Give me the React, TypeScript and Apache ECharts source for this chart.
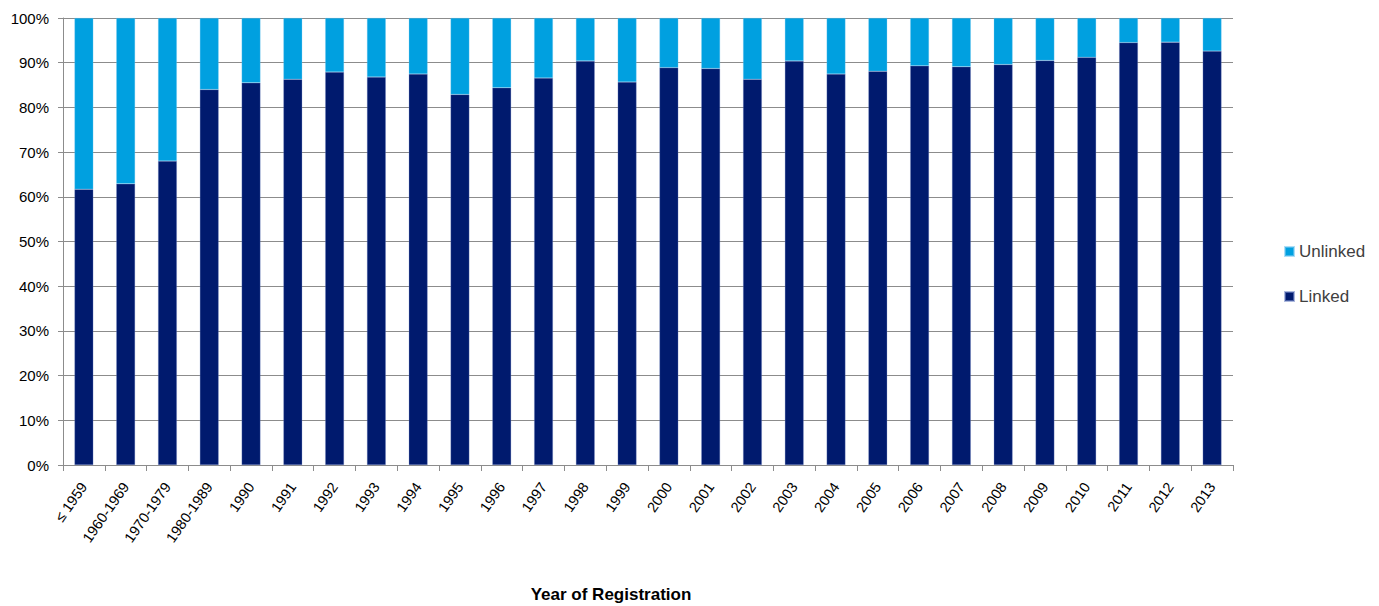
import React, { useEffect, useRef } from "react";
import * as echarts from "echarts";

const categories = [
  "≤ 1959", "1960-1969", "1970-1979", "1980-1989", "1990", "1991", "1992", "1993", "1994",
  "1995", "1996", "1997", "1998", "1999", "2000", "2001", "2002", "2003", "2004", "2005",
  "2006", "2007", "2008", "2009", "2010", "2011", "2012", "2013",
];

const linked = [
  61.7, 62.9, 68.0, 84.0, 85.5, 86.3, 87.9, 86.8, 87.5, 82.9, 84.4, 86.6, 90.4, 85.7,
  88.9, 88.7, 86.3, 90.4, 87.5, 88.1, 89.3, 89.1, 89.6, 90.5, 91.2, 94.5, 94.6, 92.6,
];

const unlinked = [
  38.3, 37.1, 32.0, 16.0, 14.5, 13.7, 12.1, 13.2, 12.5, 17.1, 15.6, 13.4, 9.6, 14.3,
  11.1, 11.3, 13.7, 9.6, 12.5, 11.9, 10.7, 10.9, 10.4, 9.5, 8.8, 5.5, 5.4, 7.4,
];

const yTicks = [0, 10, 20, 30, 40, 50, 60, 70, 80, 90, 100];

const FONT = "'Liberation Sans', Arial, sans-serif";

export default function App() {
  const ref = useRef<HTMLDivElement>(null);
  useEffect(() => {
    if (!ref.current) return;
    const chart = echarts.init(ref.current, undefined, { renderer: "svg" });
    chart.setOption({
      animation: false,
      backgroundColor: "#ffffff",
      textStyle: { fontFamily: FONT },
      grid: { left: 63, top: 18, right: 146, bottom: 141, containLabel: false },
      legend: {
        orient: "vertical",
        left: 1279,
        top: 238,
        itemGap: 28,
        itemWidth: 9,
        itemHeight: 9,
        icon: "rect",
        data: ["Unlinked", "Linked"],
        textStyle: { fontSize: 17, color: "#404040", fontFamily: FONT },
      },
      graphic: [
        {
          type: "text",
          x: 611,
          y: 594,
          style: {
            text: "Year of Registration",
            fontSize: 17,
            fontWeight: "bold",
            fontFamily: FONT,
            fill: "#000000",
            textAlign: "center",
            textVerticalAlign: "middle",
          },
        },
      ],
      xAxis: {
        type: "category",
        data: categories,
        boundaryGap: true,
        axisLine: { show: true, lineStyle: { color: "#8c8c8c", width: 1 } },
        axisTick: { show: true, length: 6, interval: 0, lineStyle: { color: "#8c8c8c" } },
        axisLabel: {
          interval: 0,
          rotate: 55,
          margin: 19,
          fontSize: 14.5,
          color: "#000000",
          fontFamily: FONT,
        },
      },
      yAxis: {
        type: "value",
        min: yTicks[0],
        max: yTicks[yTicks.length - 1],
        interval: 10,
        axisLine: { show: true, lineStyle: { color: "#8c8c8c", width: 1 } },
        axisTick: { show: true, length: 5, lineStyle: { color: "#8c8c8c" } },
        splitLine: { show: true, lineStyle: { color: "#8c8c8c", width: 1 } },
        axisLabel: {
          formatter: "{value}%",
          fontSize: 15,
          color: "#000000",
          margin: 14,
          fontFamily: FONT,
        },
      },
      series: [
        {
          name: "Linked",
          type: "bar",
          stack: "total",
          data: linked,
          barCategoryGap: "55%",
          itemStyle: { color: "#001A6E", borderColor: "rgba(120,140,200,0.6)", borderWidth: 0.5 },
        },
        {
          name: "Unlinked",
          type: "bar",
          stack: "total",
          data: unlinked,
          barCategoryGap: "55%",
          itemStyle: { color: "#00A0E0", borderColor: "rgba(120,200,240,0.6)", borderWidth: 0.5 },
        },
      ],
    });
    return () => chart.dispose();
  }, []);
  return (
    <div
      ref={ref}
      style={{ position: "fixed", left: 0, top: 0, width: 1379, height: 606 }}
    />
  );
}
